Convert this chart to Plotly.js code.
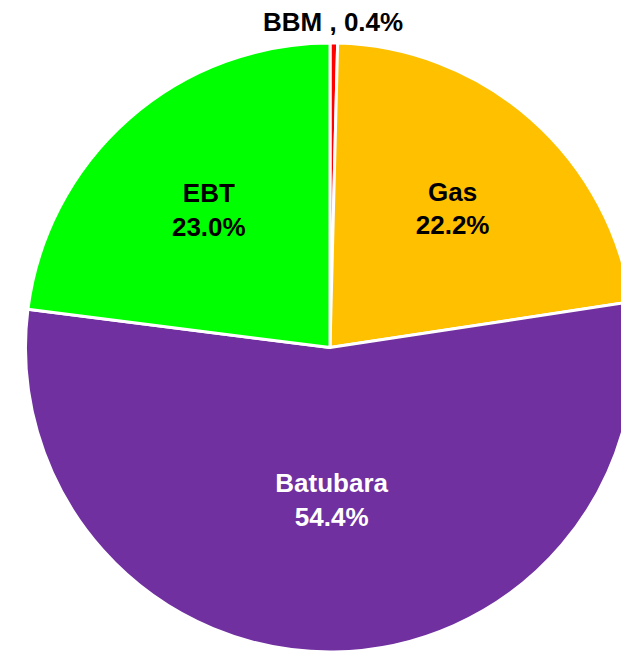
<!DOCTYPE html>
<html lang="en">
<head>
    <meta charset="UTF-8">
    <title>Bauran Energi</title>
    <script src="https://cdn.plot.ly/plotly-3.0.1.min.js"></script>
    <style>
        html, body { margin: 0; padding: 0; overflow: hidden; background: #fff; }
        #chart { width: 660px; height: 652px; }
    </style>
</head>
<body>
    <div id="chart"></div>

    <script>
        // share of each source, clockwise from 12 o'clock
        const labels = ['BBM', 'Gas', 'Batubara', 'EBT'];
        const shares = [0.4, 22.2, 54.4, 23.0];
        const colors = ['#FF0000', '#FFC000', '#7030A0', '#00FF00'];
        const textColors = ['#000000', '#000000', '#FFFFFF', '#000000'];
        // the tiny BBM slice gets its label as an annotation above the pie
        const positions = ['none', 'inside', 'inside', 'inside'];

        const font = { family: 'Liberation Sans, Arial, sans-serif', size: 26, weight: 'bold' };
        const total = shares.reduce((a, b) => a + b, 0);

        const trace = {
            type: 'pie',
            labels: labels,
            values: shares,
            sort: false,
            direction: 'clockwise',
            rotation: 0,
            marker: { colors: colors, line: { color: '#FFFFFF', width: 3 } },
            textposition: positions,
            texttemplate: '%{label}<br>%{percent:.1%}',
            insidetextorientation: 'horizontal',
            textfont: Object.assign({}, font, { color: textColors }),
            hoverinfo: 'none',
            showlegend: false
        };

        const layout = {
            width: 660,
            height: 652,
            margin: { l: 25, r: 25, t: 43, b: 0 },
            paper_bgcolor: '#FFFFFF',
            showlegend: false,
            annotations: [{
                text: labels[0] + ' , ' + (shares[0] / total * 100).toFixed(1) + '%',
                xref: 'paper', yref: 'paper',
                x: 0.505, y: 1.034,
                xanchor: 'center', yanchor: 'middle',
                showarrow: false,
                font: Object.assign({}, font, { color: '#000000' })
            }]
        };

        Plotly.newPlot('chart', [trace], layout, { displayModeBar: false, staticPlot: true });
    </script>
</body>
</html>
